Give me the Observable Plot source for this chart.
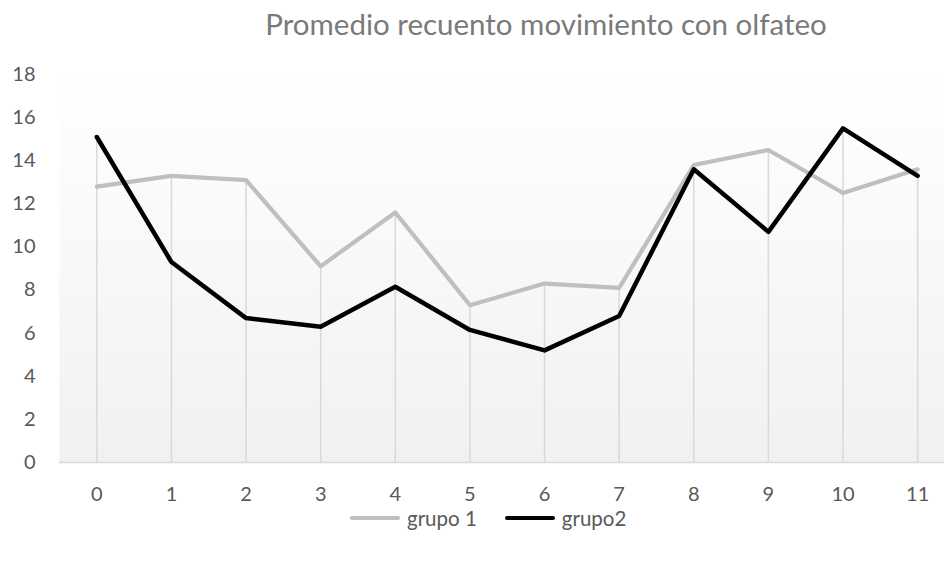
<!DOCTYPE html>
<html><head><meta charset="utf-8">
<script src="https://cdn.jsdelivr.net/npm/d3@7"></script>
<script src="https://cdn.jsdelivr.net/npm/@observablehq/plot@0.6"></script>
<style>
body{margin:0;background:#fff;font-family:Lato,"Open Sans",sans-serif;overflow:hidden;}
#wrap{width:944px;height:562px;position:relative;}
#title{position:absolute;top:6px;left:246px;width:600px;text-align:center;font-size:29.5px;color:#7a7a7a;white-space:nowrap;}
#chart{position:absolute;top:60px;left:0;}
#legend{position:absolute;top:505px;left:350px;height:26px;display:flex;align-items:center;font-size:20.5px;color:#595959;}
.item{display:flex;align-items:center;margin-right:28px;}
.sw{display:inline-block;width:50px;height:4.5px;border-radius:2px;margin-right:7px;}
</style></head>
<body><div id="wrap"><div id="title">Promedio recuento movimiento con olfateo</div><div id="chart"></div><div id="legend"></div></div>
<script>
const categories = [0,1,2,3,4,5,6,7,8,9,10,11];
const grupo1 = [12.8,13.3,13.1,9.1,11.6,7.3,8.3,8.1,13.8,14.5,12.5,13.6];
const grupo2 = [15.1,9.3,6.7,6.3,8.15,6.15,5.2,6.8,13.6,10.7,15.5,13.3];
const yTicks = [0,2,4,6,8,10,12,14,16,18];
const seriesNames = ["grupo 1","grupo2"];
const seriesColors = ["#BFBFBF","#000000"];

const rows1 = categories.map((c,i)=>({x:c,y:grupo1[i]}));
const rows2 = categories.map((c,i)=>({x:c,y:grupo2[i]}));
const drops = categories.map((c,i)=>({x:c,top:Math.max(grupo1[i],grupo2[i])}));

const plot = Plot.plot({
  width: 944, height: 450,
  marginLeft: 59, marginRight: 0, marginTop: 14, marginBottom: 48,
  style: {fontFamily: 'Lato, "Open Sans", sans-serif', fontSize: "20px", color: "#595959", background: "transparent"},
  x: {domain: [-0.5, 11.36], label: null},
  y: {domain: [0, 18], label: null},
  marks: [
    Plot.frame({fill: "url(#bgGrad)", stroke: "none"}),
    Plot.ruleX(drops, {x: "x", y1: 0, y2: "top", stroke: "#D9D9D9", strokeWidth: 1.5}),
    Plot.ruleY([0], {stroke: "#D9D9D9", strokeWidth: 1.5}),
    Plot.line(rows1, {x: "x", y: "y", stroke: seriesColors[0], strokeWidth: 4.2, strokeLinejoin: "round"}),
    Plot.line(rows2, {x: "x", y: "y", stroke: seriesColors[1], strokeWidth: 4.5, strokeLinejoin: "round"}),
    Plot.axisX({ticks: categories, tickFormat: d=>String(d), tickSize: 0, tickPadding: 24, fill: "#595959", fontSize: 20}),
    Plot.axisY({ticks: yTicks, tickSize: 0, tickPadding: 24, fill: "#595959", fontSize: 20})
  ]
});
const ns = "http://www.w3.org/2000/svg";
const defs = document.createElementNS(ns, "defs");
defs.innerHTML = '<linearGradient id="bgGrad" x1="0" y1="0" x2="0" y2="1"><stop offset="0" stop-color="#ffffff"/><stop offset="0.14" stop-color="#fdfdfd"/><stop offset="1" stop-color="#f1f1f1"/></linearGradient>';
plot.insertBefore(defs, plot.firstChild);
document.getElementById("chart").appendChild(plot);

const leg = document.getElementById("legend");
seriesNames.forEach((n,i)=>{
  const it = document.createElement("div"); it.className="item";
  const sw = document.createElement("span"); sw.className="sw"; sw.style.background=seriesColors[i];
  const t = document.createElement("span"); t.textContent=n;
  it.appendChild(sw); it.appendChild(t); leg.appendChild(it);
});
</script></body></html>
